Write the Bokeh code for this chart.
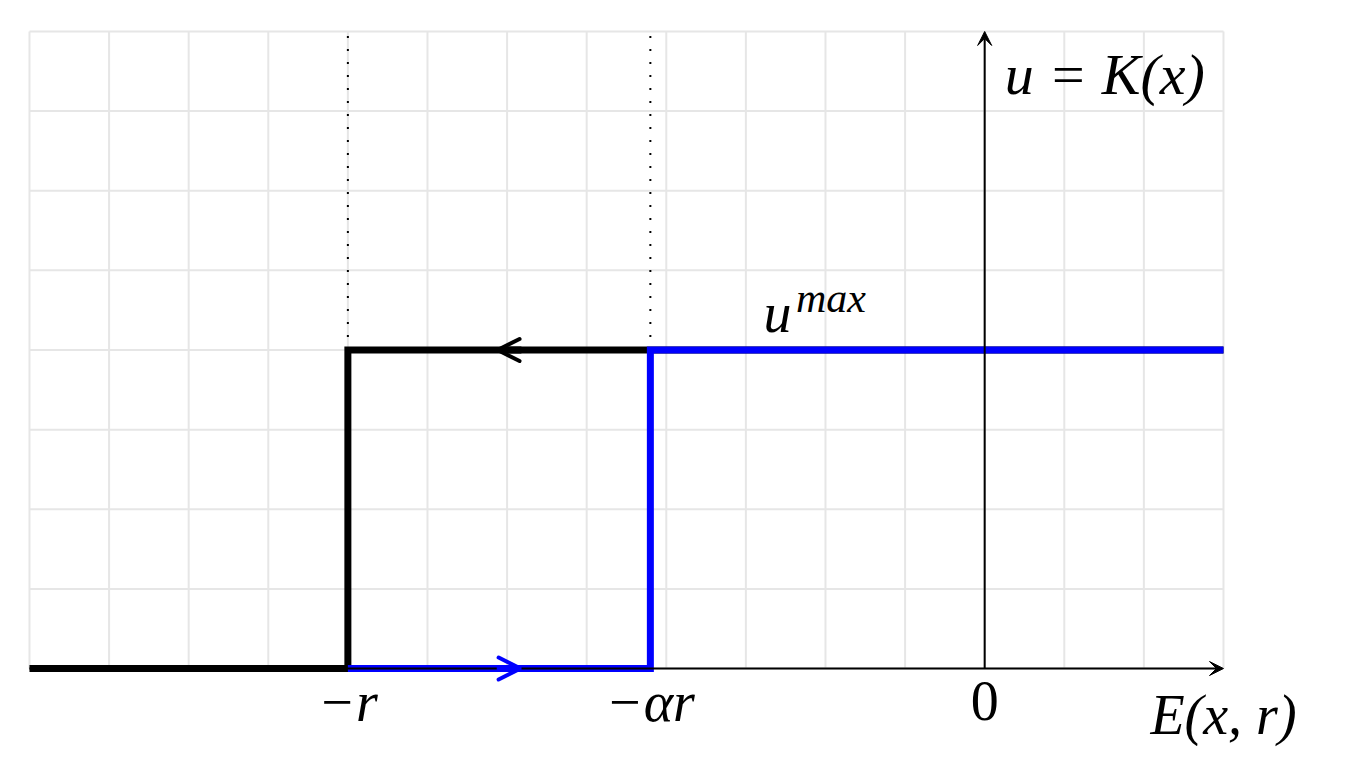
from bokeh.plotting import figure
from bokeh.models import Range1d, Arrow, VeeHead, OpenHead
from bokeh.core.properties import value
from bokeh.embed import file_html
from bokeh.resources import INLINE

# grid extents (data units)
grid_x = list(range(-12, 4))
grid_y = list(range(0, 9))

# characteristic points
r_pos = -8.0
ar_pos = -4.2
u_max = 4.0
x_min, x_max = -12.0, 3.0
y_top = 8.0

# black path (decreasing branch) and blue path (increasing branch)
black_x = [x_min, r_pos, r_pos, x_max]
black_y = [0, 0, u_max, u_max]
blue_x = [r_pos, ar_pos, ar_pos, x_max]
blue_y = [0, 0, u_max, u_max]

# direction marks on the branches
black_arrow_tip = -6.12
blue_arrow_tip = -5.83

tick_pos = [r_pos, ar_pos]
tick_labels = ["\u2212r", "\u2212\u03b1r"]
origin_label = "0"

p = figure(width=1340, height=760, output_backend="svg", toolbar_location=None,
           x_axis_type=None, y_axis_type=None, min_border=0)
p.x_range = Range1d(-12.364, 4.470)
p.y_range = Range1d(-1.155, 8.389)
p.outline_line_color = None
p.xgrid.visible = False
p.ygrid.visible = False

font = value("Liberation Serif")
gc = "#e6e6e6"
p.segment(x0=grid_x, y0=[0] * len(grid_x), x1=grid_x, y1=[y_top] * len(grid_x),
          line_color=gc, line_width=2)
p.segment(x0=[x_min] * len(grid_y), y0=grid_y, x1=[x_max] * len(grid_y), y1=grid_y,
          line_color=gc, line_width=2)

# dotted guides
for gx in (r_pos, ar_pos):
    p.line([gx, gx], [u_max, y_top], line_color="black", line_width=2,
           line_dash="2 11")

# axes with arrowheads
p.add_layout(Arrow(end=VeeHead(size=14, line_color="black", fill_color="black", line_width=1),
                   x_start=x_min, y_start=0, x_end=x_max, y_end=0,
                   line_color="black", line_width=2))
p.add_layout(Arrow(end=VeeHead(size=14, line_color="black", fill_color="black", line_width=1),
                   x_start=0, y_start=0, x_end=0, y_end=y_top,
                   line_color="black", line_width=2))

# paths
p.line(black_x, black_y, line_color="black", line_width=7, line_join="miter")
p.line(blue_x, blue_y, line_color="#0000ff", line_width=7, line_join="miter")

# direction arrows
p.add_layout(Arrow(end=OpenHead(size=22, line_color="black", line_width=4, line_cap="round"),
                   x_start=black_arrow_tip + 0.3, y_start=u_max, x_end=black_arrow_tip, y_end=u_max,
                   line_color="black", line_width=7))
p.add_layout(Arrow(end=OpenHead(size=22, line_color="#0000ff", line_width=4, line_cap="round"),
                   x_start=blue_arrow_tip - 0.3, y_start=0, x_end=blue_arrow_tip, y_end=0,
                   line_color="#0000ff", line_width=7))

# labels
p.text(x=tick_pos, y=[0] * len(tick_pos), text=tick_labels, text_font=font,
       text_font_style="italic", text_font_size="56px", text_align="center",
       text_baseline="alphabetic", y_offset=33)
p.text(x=[0], y=[0], text=[origin_label], text_font=font,
       text_font_size="56px", text_align="center",
       text_baseline="alphabetic", y_offset=32)
p.text(x=[x_max], y=[0], text=["E(x, r)"], text_font=font, text_font_style="italic",
       text_font_size="56px", text_align="center", text_baseline="alphabetic", y_offset=46)
p.text(x=[0], y=[y_top], text=["u = K(x)"], text_font=font, text_font_style="italic",
       text_font_size="58px", text_align="left", text_baseline="alphabetic",
       x_offset=20, y_offset=43)
p.text(x=[-2.78], y=[u_max], text=["u"], text_font=font, text_font_style="italic",
       text_font_size="56px", text_align="left", text_baseline="alphabetic", y_offset=-37)
p.text(x=[-2.37], y=[u_max], text=["max"], text_font=font, text_font_style="italic",
       text_font_size="42px", text_align="left", text_baseline="alphabetic", y_offset=-52)

open("out.html", "w").write(file_html(p, INLINE))
